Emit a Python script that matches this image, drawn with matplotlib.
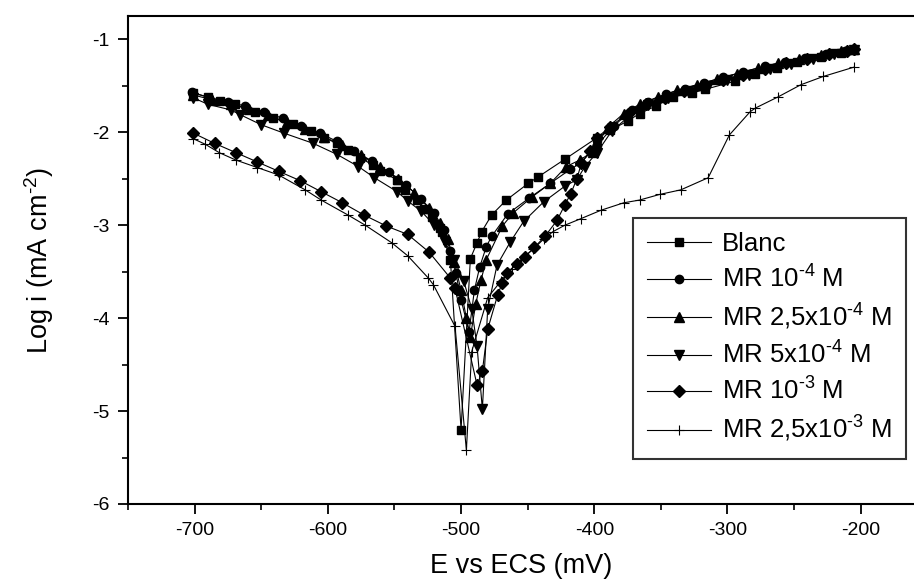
import numpy as np
import matplotlib.pyplot as plt

plt.rcParams['font.family'] = ['Liberation Sans', 'DejaVu Sans']
plt.rcParams['mathtext.fontset'] = 'custom'
plt.rcParams['mathtext.rm'] = 'Liberation Sans'
plt.rcParams['mathtext.it'] = 'Liberation Sans:italic'
plt.rcParams['axes.unicode_minus'] = False

# Polarisation curves, E in mV vs ECS, log i in mA cm-2
E_blanc = [-701, -690, -681, -670, -655, -641, -626, -613, -603, -593, -585, -576,
           -566, -561, -548, -542, -533, -528, -522, -516, -514.5, -508, -500, -493,
           -488, -484.5, -477, -466, -449.5, -442, -422, -398, -388, -375, -366, -354,
           -341, -327, -317, -294, -279, -263, -248, -230, -215, -205]
L_blanc = [-1.58, -1.62, -1.66, -1.70, -1.78, -1.85, -1.91, -1.99, -2.06, -2.12, -2.19, -2.28,
           -2.35, -2.42, -2.51, -2.62, -2.73, -2.83, -2.91, -3.03, -3.07, -3.37, -5.20, -3.36,
           -3.19, -3.07, -2.89, -2.73, -2.55, -2.48, -2.29, -2.06, -1.98, -1.88, -1.80, -1.72,
           -1.62, -1.58, -1.54, -1.45, -1.37, -1.31, -1.25, -1.19, -1.15, -1.12]

E_mr1 = [-702, -689, -675, -662, -648, -634, -620, -606, -593, -580, -567, -554,
         -541, -530, -520, -513, -508, -504, -500, -494, -490, -486, -481, -477,
         -465, -449, -433, -418, -410, -398, -385, -372, -360, -346, -332, -318,
         -303, -288, -272, -257, -242, -226, -212, -205]
L_mr1 = [-1.57, -1.63, -1.67, -1.72, -1.78, -1.85, -1.93, -2.01, -2.10, -2.20, -2.31, -2.43,
         -2.57, -2.72, -2.87, -3.05, -3.28, -3.51, -3.80, -4.15, -3.70, -3.45, -3.23, -3.12,
         -2.88, -2.71, -2.55, -2.40, -2.33, -2.14, -1.93, -1.76, -1.67, -1.59, -1.53, -1.47,
         -1.41, -1.35, -1.29, -1.24, -1.20, -1.16, -1.13, -1.11]

E_mr2 = [-701, -687, -673, -659, -645, -631, -617, -603, -589, -575, -561, -547,
         -535, -524, -516, -510, -505, -500, -496, -493, -489, -485, -481, -469,
         -461, -447, -433, -421, -411, -401, -390, -378, -366, -352, -338, -323,
         -308, -293, -277, -262, -246, -230, -215, -205]
L_mr2 = [-1.60, -1.65, -1.70, -1.75, -1.82, -1.89, -1.97, -2.05, -2.14, -2.25, -2.37, -2.50,
         -2.65, -2.82, -2.98, -3.15, -3.40, -3.70, -4.00, -4.20, -3.85, -3.59, -3.37, -3.01,
         -2.87, -2.70, -2.55, -2.37, -2.30, -2.21, -1.95, -1.80, -1.70, -1.62, -1.55, -1.49,
         -1.43, -1.37, -1.31, -1.26, -1.21, -1.17, -1.13, -1.11]

E_mr3 = [-701, -690, -673, -666, -650, -633, -611, -593, -577, -565, -548, -540,
         -530, -520, -512, -505, -498, -492, -488, -484, -480, -473, -463, -453,
         -438, -422, -413, -407, -398, -387, -374, -360, -345, -330, -315, -300,
         -284, -268, -252, -236, -220, -205]
L_mr3 = [-1.63, -1.70, -1.76, -1.81, -1.92, -2.01, -2.12, -2.24, -2.37, -2.49, -2.64, -2.74,
         -2.85, -3.00, -3.18, -3.38, -3.60, -3.90, -4.30, -4.98, -3.90, -3.43, -3.18, -2.96,
         -2.75, -2.58, -2.51, -2.37, -2.22, -1.99, -1.83, -1.71, -1.63, -1.56, -1.50, -1.44,
         -1.38, -1.32, -1.27, -1.21, -1.16, -1.12]

E_mr4 = [-701, -685, -669, -653, -637, -621, -605, -589, -573, -556, -540, -524,
         -508, -504.5, -488, -484, -480, -472.5, -469, -465.7, -458, -452, -445, -437,
         -428, -422, -417.6, -413, -409.6, -403, -398, -388, -375, -361, -347, -333,
         -318, -303, -288, -272, -256, -240, -224, -210, -205]
L_mr4 = [-2.01, -2.12, -2.22, -2.32, -2.42, -2.52, -2.64, -2.76, -2.89, -3.01, -3.10, -3.29,
         -3.57, -3.68, -4.72, -4.57, -4.12, -3.75, -3.62, -3.51, -3.42, -3.34, -3.24, -3.12,
         -2.95, -2.78, -2.66, -2.50, -2.33, -2.20, -2.06, -1.94, -1.80, -1.70, -1.63, -1.56,
         -1.50, -1.44, -1.38, -1.32, -1.26, -1.21, -1.16, -1.13, -1.11]

E_mr5 = [-701, -692, -681.5, -669, -653, -637, -617, -605, -585, -572, -552, -540,
         -524.5, -520.8, -504.5, -496, -492, -480, -470, -462, -455, -446, -438, -431,
         -422, -410, -395, -378, -366, -351, -335, -314.5, -298.6, -283, -279, -262,
         -245, -228, -205]
L_mr5 = [-2.07, -2.13, -2.22, -2.30, -2.38, -2.46, -2.62, -2.73, -2.89, -3.00, -3.19, -3.33,
         -3.57, -3.64, -4.09, -5.42, -4.36, -3.78, -3.60, -3.47, -3.37, -3.26, -3.15, -3.07,
         -3.00, -2.93, -2.84, -2.76, -2.73, -2.67, -2.62, -2.49, -2.03, -1.78, -1.74, -1.62,
         -1.49, -1.40, -1.30]

fig = plt.figure(figsize=(9.14, 5.86), dpi=100)
ax = fig.add_axes([128/914, 82/586, 786/914, 488/586])

# short hyphen in the exponents instead of the math minus
ax.plot(E_blanc, L_blanc, 'k-', marker='s', ms=6, lw=0.8, label='Blanc')
ax.plot(E_mr1, L_mr1, 'k-', marker='o', ms=6, lw=0.8, label='MR 10$^{\u20104}$ M')
ax.plot(E_mr2, L_mr2, 'k-', marker='^', ms=6.5, lw=0.8, label='MR 2,5x10$^{\u20104}$ M')
ax.plot(E_mr3, L_mr3, 'k-', marker='v', ms=6.5, lw=0.8, label='MR 5x10$^{\u20104}$ M')
ax.plot(E_mr4, L_mr4, 'k-', marker='D', ms=6, lw=0.8, label='MR 10$^{\u20103}$ M')
ax.plot(E_mr5, L_mr5, 'k-', marker='+', ms=6.5, mew=0.8, lw=0.8, label='MR 2,5x10$^{\u20103}$ M')

ax.set_xlim(-750, -160)
ax.set_ylim(-6, -0.75)
ax.set_xticks(np.arange(-700, -150, 100))
ax.set_xticks(np.arange(-750, -150, 50), minor=True)
ax.set_yticks(np.arange(-6, -0.5, 1))
ax.set_yticks(np.arange(-6, -0.5, 0.5), minor=True)
ax.tick_params(which='major', direction='out', length=7, width=1.3, labelsize=14, pad=6)
ax.tick_params(which='minor', direction='out', length=4, width=1.2)
ax.tick_params(top=False, right=False)
for side in ['left', 'bottom', 'top']:
    ax.spines[side].set_linewidth(1.5)
ax.spines['right'].set_visible(False)

ax.set_xlabel('E vs ECS (mV)', fontsize=19.5, labelpad=10)
ax.set_ylabel('Log i (mA cm$^{\u20102}$)', fontsize=19.5, labelpad=26)

leg = ax.legend(loc='upper left', bbox_to_anchor=(0.6425, 0.586), fontsize=18.5,
                frameon=True, fancybox=False, edgecolor='k', borderaxespad=0,
                handlelength=2.5, handletextpad=0.4, labelspacing=0.36, borderpad=0.55)
leg.get_frame().set_linewidth(1.5)

plt.savefig('out.png', dpi=100)
